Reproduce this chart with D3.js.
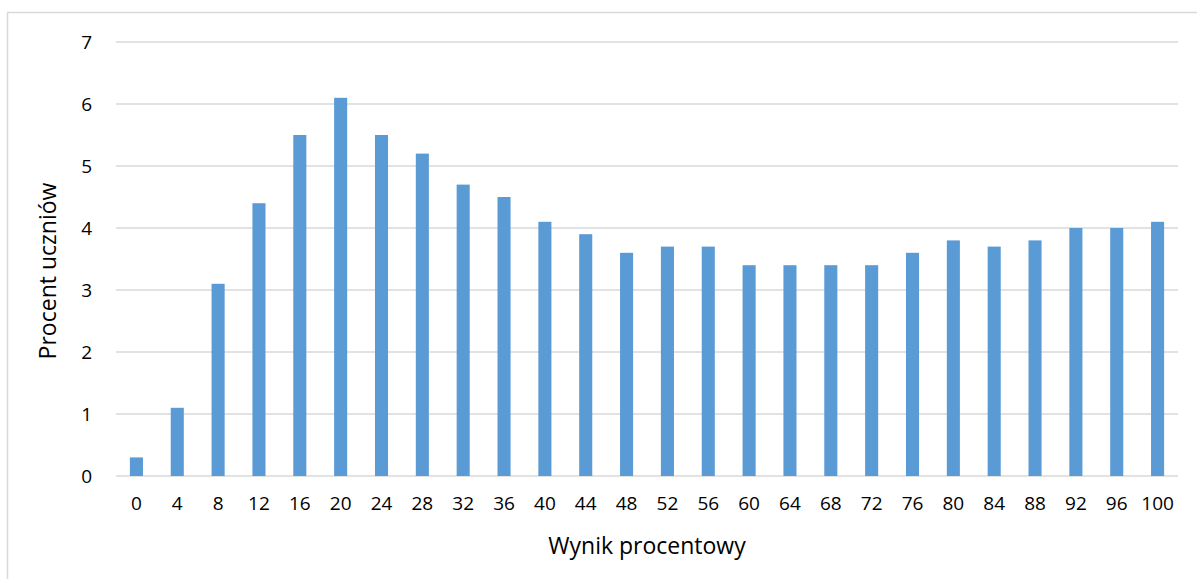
<!DOCTYPE html>
<html>
<head>
<meta charset="utf-8">
<script src="https://cdn.jsdelivr.net/npm/d3@7"></script>
<style>
  body { margin: 0; background: #fff; }
  svg { display: block; font-family: "Open Sans", "Liberation Sans", sans-serif; }
</style>
</head>
<body>
<svg width="1197" height="579"></svg>
<script>
const scores = [0, 4, 8, 12, 16, 20, 24, 28, 32, 36, 40, 44, 48, 52, 56, 60, 64, 68, 72, 76, 80, 84, 88, 92, 96, 100];
const percents = [0.3, 1.1, 3.1, 4.4, 5.5, 6.1, 5.5, 5.2, 4.7, 4.5, 4.1, 3.9, 3.6, 3.7, 3.7, 3.4, 3.4, 3.4, 3.4, 3.6, 3.8, 3.7, 3.8, 4.0, 4.0, 4.1];
const yTicks = [0, 1, 2, 3, 4, 5, 6, 7];

const svg = d3.select("svg");
const plotLeft = 116, plotRight = 1178, plotTop = 42, plotBottom = 476;

// ramka wykresu
svg.append("rect")
    .attr("x", 7.5).attr("y", 12.5)
    .attr("width", 1200).attr("height", 600)
    .attr("fill", "none")
    .attr("stroke", "#d9d9d9")
    .attr("stroke-width", 1.5);

const x = d3.scaleBand()
    .domain(scores)
    .range([plotLeft, plotRight])
    .paddingInner(0.68)
    .paddingOuter(0.34);

const y = d3.scaleLinear()
    .domain([0, 7])
    .range([plotBottom, plotTop]);

// linie siatki
svg.append("g")
    .selectAll("line")
    .data(yTicks)
    .join("line")
    .attr("x1", plotLeft)
    .attr("x2", plotRight)
    .attr("y1", d => y(d))
    .attr("y2", d => y(d))
    .attr("stroke", "#d9d9d9")
    .attr("stroke-width", 1.5);

svg.append("g")
    .selectAll("rect")
    .data(percents)
    .join("rect")
    .attr("x", (d, i) => x(scores[i]))
    .attr("width", x.bandwidth())
    .attr("y", d => y(d))
    .attr("height", d => y(0) - y(d))
    .attr("fill", "#5b9bd5");

// etykiety osi Y
svg.append("g")
    .selectAll("text")
    .data(yTicks)
    .join("text")
    .attr("x", 92)
    .attr("y", d => y(d))
    .attr("dy", "0.35em")
    .attr("text-anchor", "end")
    .attr("font-size", 19)
    .attr("fill", "#000")
    .text(d => d);

// etykiety osi X
svg.append("g")
    .selectAll("text")
    .data(scores)
    .join("text")
    .attr("x", d => x(d) + x.bandwidth() / 2)
    .attr("y", 503)
    .attr("dy", "0.35em")
    .attr("text-anchor", "middle")
    .attr("font-size", 19)
    .attr("fill", "#000")
    .text(d => d);

svg.append("text")
    .attr("x", 647)
    .attr("y", 546)
    .attr("dy", "0.35em")
    .attr("text-anchor", "middle")
    .attr("font-size", 23)
    .text("Wynik procentowy");

svg.append("text")
    .attr("transform", "translate(48,271) rotate(-90)")
    .attr("dy", "0.35em")
    .attr("text-anchor", "middle")
    .attr("font-size", 23)
    .text("Procent uczniów");
</script>
</body>
</html>
